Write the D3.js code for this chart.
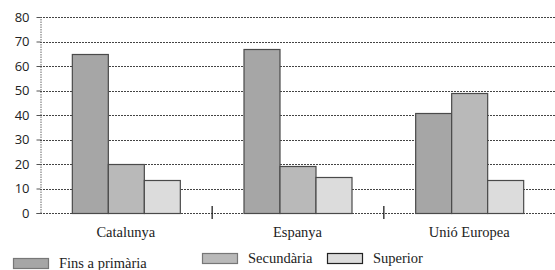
<!DOCTYPE html>
<html>
<head>
<meta charset="utf-8">
<script src="https://cdn.jsdelivr.net/npm/d3@7"></script>
<style>
  html, body { margin: 0; padding: 0; background: #ffffff; }
  svg { display: block; }
</style>
</head>
<body>
<div id="chart"></div>
<script>
// ---- data ----
const categories = ["Catalunya", "Espanya", "Unió Europea"];
const seriesNames = ["Fins a primària", "Secundària", "Superior"];
const finsPrimaria = [65, 67, 41];
const secundaria = [20, 19, 49];
const superior = [13.5, 14.5, 13.5];
const yTicks = [0, 10, 20, 30, 40, 50, 60, 70, 80];

const seriesValues = [finsPrimaria, secundaria, superior];
const colors = ["#a6a6a6", "#b9b9b9", "#dcdcdc"];

const SERIF = "Liberation Serif";
const SANS = "Open Sans";

const W = 555, H = 270;
const margin = { left: 40, right: 0, top: 17, bottom: 59 };

const svg = d3.select("#chart").append("svg")
  .attr("width", W).attr("height", H);

const x0 = d3.scaleBand()
  .domain(categories)
  .range([margin.left, W - margin.right])
  .paddingInner(0)
  .paddingOuter(0);

const x1 = d3.scaleBand()
  .domain(seriesNames)
  .range([0, 108])
  .padding(0);

const groupOffset = (x0.bandwidth() - 108) / 2;

const y = d3.scaleLinear().domain([0, 80]).range([H - margin.bottom + 2, margin.top]);

// gridlines
svg.append("g").selectAll("line")
  .data(yTicks)
  .join("line")
  .attr("x1", margin.left).attr("x2", W)
  .attr("y1", d => Math.round(y(d)) + 0.5).attr("y2", d => Math.round(y(d)) + 0.5)
  .attr("stroke", "#444")
  .attr("stroke-width", 1)
  .attr("stroke-dasharray", "2,1");

// y axis
const yAxis = d3.axisLeft(y).tickValues(yTicks).tickSize(4).tickPadding(7);
const gy = svg.append("g")
  .attr("transform", `translate(${margin.left + 0.5},0)`)
  .call(yAxis);
gy.select(".domain").attr("stroke", "#666").attr("stroke-dasharray", "1.5,1");
gy.selectAll(".tick line").attr("stroke", "#555");
gy.selectAll(".tick text")
  .style("font-family", SANS)
  .style("font-size", "13px")
  .style("fill", "#222");

// bars
const groups = svg.append("g").selectAll("g")
  .data(categories)
  .join("g")
  .attr("transform", d => `translate(${x0(d) + groupOffset},0)`);

groups.selectAll("rect")
  .data((c, ci) => seriesNames.map((s, si) => ({ s, si, v: seriesValues[si][ci] })))
  .join("rect")
  .attr("x", d => x1(d.s) + 0.5)
  .attr("width", x1.bandwidth())
  .attr("y", d => Math.round(y(d.v)) + 0.5)
  .attr("height", d => Math.round(y(0)) - Math.round(y(d.v)))
  .attr("fill", d => colors[d.si])
  .attr("stroke", "#4a4a4a")
  .attr("stroke-width", 1.2);

// x axis ticks between categories
const sepTicks = categories.slice(1).map(c => x0(c));
svg.append("g").selectAll("line")
  .data(sepTicks)
  .join("line")
  .attr("x1", d => d + 0.5).attr("x2", d => d + 0.5)
  .attr("y1", y(0) - 7).attr("y2", y(0) + 6)
  .attr("stroke", "#222").attr("stroke-width", 1.3);

// category labels
svg.append("g").selectAll("text")
  .data(categories)
  .join("text")
  .style("font-family", SERIF)
  .style("font-size", "14.5px")
  .style("fill", "#222")
  .attr("x", d => x0(d) + x0.bandwidth() / 2)
  .attr("y", 237)
  .attr("text-anchor", "middle")
  .text(d => d);

// legend
const legendX = [13, 202, 327];
const legend = svg.append("g").selectAll("g")
  .data(seriesNames)
  .join("g")
  .attr("transform", (d, i) => `translate(${legendX[i]},${i === 0 ? 258 : 253})`);
legend.append("rect")
  .attr("x", 0.5).attr("y", 0.5)
  .attr("width", 35).attr("height", 10)
  .attr("fill", (d, i) => colors[i])
  .attr("stroke", (d, i) => i === 2 ? "#222" : "#777")
  .attr("stroke-width", 1.2);
legend.append("text")
  .style("font-family", SERIF)
  .style("font-size", "14.5px")
  .style("fill", "#222")
  .attr("x", 46).attr("y", 10)
  .text(d => d);
</script>
</body>
</html>
